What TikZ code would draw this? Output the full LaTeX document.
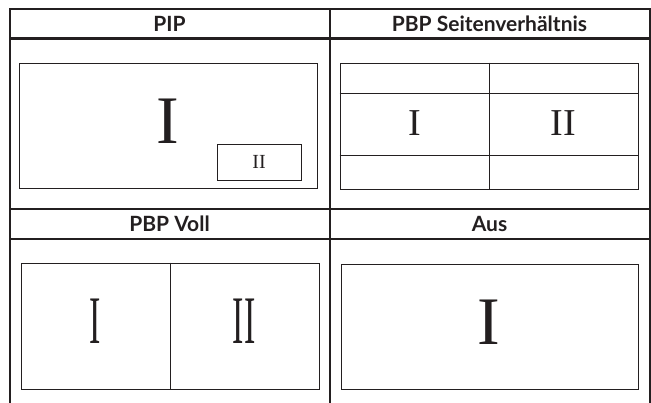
\documentclass[tikz,border=0pt]{standalone}
\usepackage{fontspec}
\setsansfont{Lato}
\setmainfont{Liberation Serif}
\usetikzlibrary{positioning}
\definecolor{ink}{RGB}{35,31,32}
\tikzset{
  hdr/.style={draw=ink, line width=2pt, minimum width=320pt, minimum height=30pt, inner sep=0pt, text=ink, font=\sffamily\bfseries\fontsize{21}{21}\selectfont},
  screen/.style={draw=ink, line width=1pt, inner sep=0pt},
  num/.style={text=ink, inner sep=0pt, font=\fontsize{#1}{#1}\selectfont},
  grid/.style={draw=ink, line width=2pt}
}
\begin{document}
\begin{tikzpicture}[x=1pt, y=-1pt]
  \useasboundingbox (0,0) rectangle (651,402);
  % table
  \draw[grid] (9.5,38) rectangle (329.5,208.5);
  \draw[grid] (329.5,38) rectangle (649.5,208.5);
  \foreach \x in {9.5,329.5,649.5}
    \draw[grid] (\x,238.5) -- (\x,410);
  \node[hdr] (pip) at (169.5,23.5) {PIP};
  \node[hdr] (aspect) at (489.5,23.5) {PBP Seitenverhältnis};
  \node[hdr] (full) at (169.5,223.5) {PBP Voll};
  \node[hdr] (off) at (489.5,223.5) {Aus};

  % PIP
  \node[screen, minimum width=298pt, minimum height=125pt] (pipmain) at (168,125.5) {};
  \node[screen, minimum width=84pt, minimum height=36pt] (pipsub) at (259,162) {};
  \node[num=68] (pipone) at (168,121) {I};
  \node[num=20] (piptwo) at (pipsub) {II};

  % PBP aspect
  \node[screen, minimum width=298pt, minimum height=126pt] (asp) at (489,126) {};
  \draw[screen] (asp.north) -- (asp.south);
  \draw[screen] (asp.west |- 0,93) -- (asp.east |- 0,93);
  \draw[screen] (asp.west |- 0,155) -- (asp.east |- 0,155);
  \node[num=38] (aspone) at (415,123) {I};
  \node[num=38] (asptwo) at (563,123) {II};

  % PBP full
  \node[screen, minimum width=298pt, minimum height=126pt] (voll) at (170,326) {};
  \draw[screen] (voll.north) -- (voll.south);
  \node[num=68] (vollone) at (95,321) {\scalebox{0.5}[1]{I}};
  \node[num=68] (volltwo) at (244,321) {\scalebox{0.5}[1]{II}};

  % off
  \node[screen, minimum width=297pt, minimum height=125pt] (aus) at (489.5,326.5) {};
  \node[num=68] (ausone) at (489,322) {I};
\end{tikzpicture}
\end{document}
